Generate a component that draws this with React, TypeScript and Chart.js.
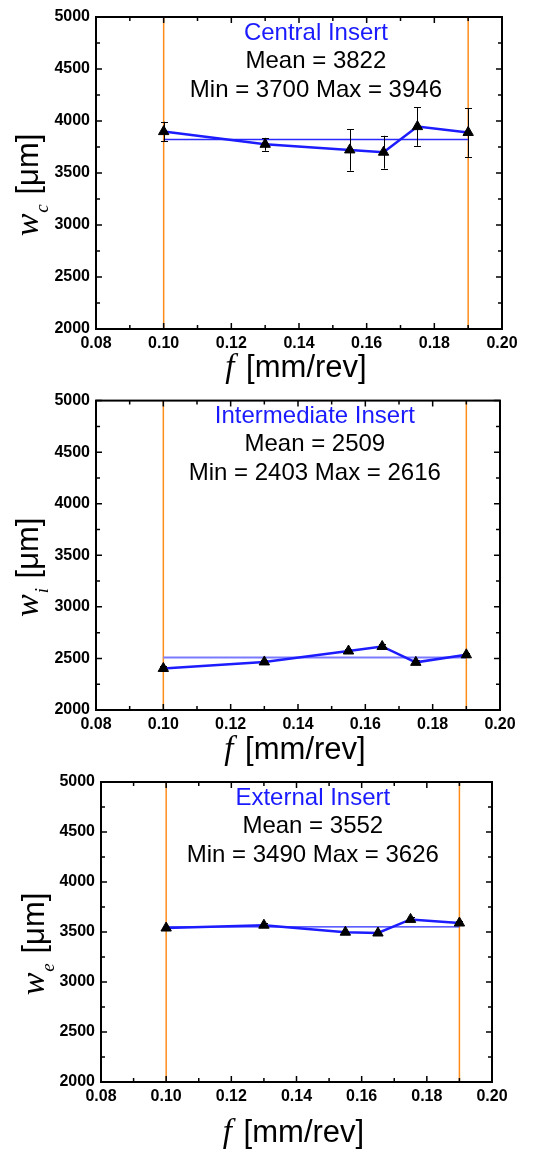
import React, { useEffect, useRef } from 'react';
import { Chart, registerables } from 'chart.js';

Chart.register(...registerables);

// ---------- data ----------
const feedRates = [0.10, 0.13, 0.155, 0.165, 0.175, 0.19];
const centralWidths = [3898, 3776, 3722, 3700, 3946, 3890];
const centralErrors = [95, 62, 200, 158, 185, 235];
const intermediateWidths = [2403, 2466, 2572, 2616, 2462, 2535];
const intermediateErrors = [22, 20, 22, 22, 20, 18];
const externalWidths = [3540, 3568, 3498, 3490, 3626, 3590];
const externalErrors = [14, 20, 16, 16, 20, 18];
const insertNames = ['Central Insert', 'Intermediate Insert', 'External Insert'];
const subscripts = ['c', 'i', 'e'];
const meanValues = [3822, 2509, 3552];
const minValues = [3700, 2403, 3490];
const maxValues = [3946, 2616, 3626];
const feedBounds = [0.10, 0.19];
const xRange = [0.08, 0.20];
const yRange = [2000, 5000];
const xStep = 0.02;
const yStep = 500;

const SANS = '"Liberation Sans", Arial, Helvetica, sans-serif';
const SERIF = '"Liberation Serif", "Times New Roman", serif';

type Layout = {
  top: number; height: number; axisW: number; padRight: number; padTop: number;
  axisH: number; meanColor: string; meanWidth: number; xTitleGap: number; yTitleX: number;
};

const layouts: Layout[] = [
  { top: 0, height: 390, axisW: 96, padRight: 42, padTop: 17, axisH: 61, meanColor: '#2a2aff', meanWidth: 1.3, xTitleGap: 48, yTitleX: 38 },
  { top: 385, height: 390, axisW: 96, padRight: 44, padTop: 15, axisH: 65, meanColor: '#7a7aff', meanWidth: 2, xTitleGap: 49, yTitleX: 38 },
  { top: 765, height: 389, axisW: 101, padRight: 52, padTop: 17, axisH: 72, meanColor: '#2a2aff', meanWidth: 1.3, xTitleGap: 60, yTitleX: 44 },
];

const seriesValues = [centralWidths, intermediateWidths, externalWidths];
const seriesErrors = [centralErrors, intermediateErrors, externalErrors];

function makePlugin(idx: number, lay: Layout) {
  return {
    id: 'decor' + idx,
    beforeDatasetDraw(chart: any, args: any) {
      if (args.index !== 0) return;
      const ctx = chart.ctx;
      const xs = chart.scales.x;
      const ys = chart.scales.y;
      const vals = seriesValues[idx];
      const errs = seriesErrors[idx];
      ctx.save();
      ctx.strokeStyle = '#000';
      ctx.lineWidth = 1;
      for (let i = 0; i < feedRates.length; i++) {
        const x = Math.round(xs.getPixelForValue(feedRates[i])) + 0.5;
        const y1 = ys.getPixelForValue(vals[i] + errs[i]);
        const y2 = ys.getPixelForValue(vals[i] - errs[i]);
        ctx.beginPath();
        ctx.moveTo(x, y1); ctx.lineTo(x, y2);
        ctx.moveTo(x - 3.5, Math.round(y1) + 0.5); ctx.lineTo(x + 3.5, Math.round(y1) + 0.5);
        ctx.moveTo(x - 3.5, Math.round(y2) + 0.5); ctx.lineTo(x + 3.5, Math.round(y2) + 0.5);
        ctx.stroke();
      }
      ctx.restore();
    },
    afterDraw(chart: any) {
      const ctx = chart.ctx;
      const { left, right, top, bottom } = chart.chartArea;
      const xs = chart.scales.x;
      const ys = chart.scales.y;
      ctx.save();
      // frame
      ctx.strokeStyle = '#000';
      ctx.lineWidth = 2;
      ctx.strokeRect(left, top, right - left, bottom - top);
      // ticks (inward, all sides)
      ctx.lineWidth = 1.5;
      ctx.beginPath();
      for (let v = yRange[0]; v <= yRange[1] + 1e-6; v += yStep / 2) {
        const major = Math.abs((v - yRange[0]) % yStep) < 1e-6;
        const len = major ? 6 : 4;
        const y = ys.getPixelForValue(v);
        ctx.moveTo(left, y); ctx.lineTo(left + len, y);
        ctx.moveTo(right, y); ctx.lineTo(right - len, y);
      }
      const nx = Math.round((xRange[1] - xRange[0]) / (xStep / 2));
      for (let k = 0; k <= nx; k++) {
        const v = xRange[0] + (k * xStep) / 2;
        const len = k % 2 === 0 ? 6 : 4;
        const x = xs.getPixelForValue(v);
        ctx.moveTo(x, bottom); ctx.lineTo(x, bottom - len);
        ctx.moveTo(x, top); ctx.lineTo(x, top + len);
      }
      ctx.stroke();

      // annotation texts
      const cx = xs.getPixelForValue(0.145);
      ctx.textAlign = 'center';
      ctx.textBaseline = 'middle';
      ctx.font = `24px ${SANS}`;
      ctx.fillStyle = '#1a1aff';
      ctx.fillText(insertNames[idx], cx, top + 16);
      ctx.fillStyle = '#000';
      ctx.fillText(`Mean = ${meanValues[idx]}`, cx, top + 44);
      ctx.fillText(`Min = ${minValues[idx]} Max = ${maxValues[idx]}`, cx, top + 73);

      // x title
      ctx.textBaseline = 'alphabetic';
      ctx.textAlign = 'left';
      const fFont = `italic 33px ${SERIF}`;
      const restFont = `31px ${SANS}`;
      ctx.font = fFont;
      const fw = ctx.measureText('f').width;
      ctx.font = restFont;
      const rest = ' [mm/rev]';
      const rw = ctx.measureText(rest).width;
      const total = fw + 3 + rw;
      const sx = (left + right) / 2 - 3 - total / 2;
      const by = bottom + lay.xTitleGap;
      ctx.font = fFont;
      ctx.fillText('f', sx, by);
      ctx.font = restFont;
      ctx.fillText(rest, sx + fw + 3, by);

      // y title (rotated)
      ctx.save();
      const cy = (top + bottom) / 2 + 12;
      ctx.translate(lay.yTitleX, cy);
      ctx.rotate(-Math.PI / 2);
      const wFont = `italic 34px ${SERIF}`;
      const subFont = `italic 19px ${SERIF}`;
      const uFont = `31px ${SANS}`;
      ctx.font = wFont; const ww = ctx.measureText('w').width;
      ctx.font = subFont; const sw = ctx.measureText(subscripts[idx]).width;
      ctx.font = uFont; const uText = ' [\u03bcm]'; const uw = ctx.measureText(uText).width;
      const tw = ww + sw + 2 + uw;
      let px = -tw / 2;
      ctx.font = wFont; ctx.fillText('w', px, 0); px += ww + 1;
      ctx.font = subFont; ctx.fillText(subscripts[idx], px, 10); px += sw + 1;
      ctx.font = uFont; ctx.fillText(uText, px, 0);
      ctx.restore();

      ctx.restore();
    },
  };
}

function buildConfig(idx: number, lay: Layout): any {
  const vals = seriesValues[idx];
  const mainData = feedRates.map((x, i) => ({ x, y: vals[i] }));
  const meanData = feedBounds.map((x) => ({ x, y: meanValues[idx] }));
  const bound1 = yRange.map((y) => ({ x: feedBounds[0], y }));
  const bound2 = yRange.map((y) => ({ x: feedBounds[1], y }));
  return {
    type: 'scatter',
    data: {
      datasets: [
        {
          data: mainData, showLine: true, order: 0,
          borderColor: '#1c1cff', borderWidth: 2.5,
          pointStyle: 'triangle', pointRadius: 6,
          pointBackgroundColor: '#000', pointBorderColor: '#000', pointBorderWidth: 1,
        },
        {
          data: meanData, showLine: true, order: 1,
          borderColor: lay.meanColor, borderWidth: lay.meanWidth, pointRadius: 0,
        },
        {
          data: bound1, showLine: true, order: 2,
          borderColor: '#ff8c1a', borderWidth: 1.5, pointRadius: 0,
        },
        {
          data: bound2, showLine: true, order: 2,
          borderColor: '#ff8c1a', borderWidth: 1.5, pointRadius: 0,
        },
      ],
    },
    options: {
      responsive: false,
      animation: false,
      events: [],
      layout: { padding: { left: 0, right: lay.padRight, top: lay.padTop, bottom: 0 } },
      plugins: { legend: { display: false }, tooltip: { enabled: false }, title: { display: false } },
      scales: {
        x: {
          type: 'linear', min: xRange[0], max: xRange[1],
          grid: { display: false, drawTicks: false },
          border: { display: false },
          ticks: {
            stepSize: xStep, padding: 5, color: '#000', maxRotation: 0,
            font: { family: SANS, size: 16, weight: 'bold' },
            callback: (v: number) => v.toFixed(2),
          },
          afterFit: (s: any) => { s.height = lay.axisH; },
        },
        y: {
          type: 'linear', min: yRange[0], max: yRange[1],
          grid: { display: false, drawTicks: false },
          border: { display: false },
          ticks: {
            stepSize: yStep, padding: 6, color: '#000',
            font: { family: SANS, size: 16, weight: 'bold' },
            callback: (v: number) => String(v),
          },
          afterFit: (s: any) => { s.width = lay.axisW; },
        },
      },
    },
    plugins: [makePlugin(idx, lay)],
  };
}

function Panel({ idx }: { idx: number }) {
  const ref = useRef<HTMLCanvasElement | null>(null);
  const lay = layouts[idx];
  useEffect(() => {
    if (!ref.current) return;
    const chart = new Chart(ref.current, buildConfig(idx, lay));
    return () => chart.destroy();
  }, [idx]);
  return (
    <canvas
      ref={ref}
      width={544}
      height={lay.height}
      style={{ position: 'absolute', left: 0, top: lay.top, width: 544, height: lay.height }}
    />
  );
}

export default function App() {
  return (
    <div style={{ position: 'absolute', left: 0, top: 0, width: 544, height: 1154, background: '#fff' }}>
      <Panel idx={0} />
      <Panel idx={1} />
      <Panel idx={2} />
    </div>
  );
}
